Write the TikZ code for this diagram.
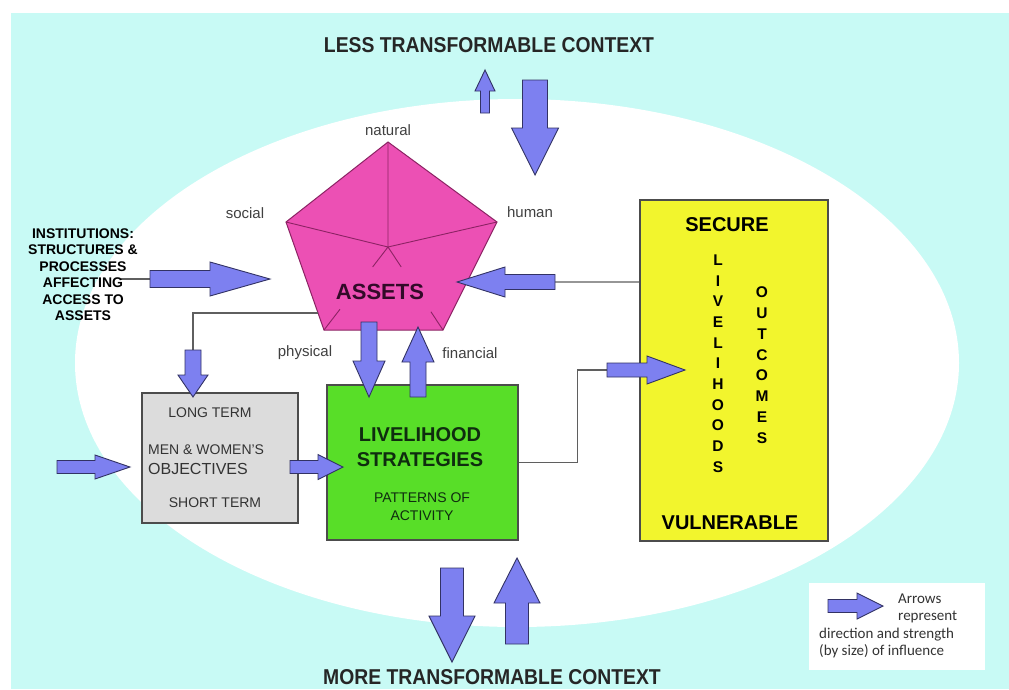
\documentclass[tikz,border=0pt]{standalone}
\usepackage{fontspec}
\setmainfont{Liberation Sans}
\newfontfamily\legendfont{Carlito}
\usetikzlibrary{calc,positioning}
\definecolor{bgcyan}{RGB}{200,250,245}
\definecolor{arrowblue}{RGB}{125,128,240}
\definecolor{arrowedge}{RGB}{50,50,100}
\definecolor{assetpink}{RGB}{236,80,180}
\definecolor{assetedge}{RGB}{140,35,100}
\definecolor{assetdark}{RGB}{50,10,40}
\definecolor{stratgreen}{RGB}{88,222,40}
\definecolor{stratdark}{RGB}{15,45,15}
\definecolor{outyellow}{RGB}{242,245,45}
\definecolor{objgrey}{RGB}{220,220,220}
\definecolor{linkgrey}{RGB}{95,95,95}
\definecolor{lightlink}{RGB}{150,150,150}
\tikzset{
  fatarrow/.style={fill=arrowblue,draw=arrowedge,line width=0.9pt,line join=miter},
  link/.style={draw=linkgrey,line width=1.4pt},
  ctxtitle/.style={font=\bfseries\fontsize{21.5}{24}\selectfont,text=black!85,inner sep=0pt},
  capital/.style={font=\fontsize{15}{18}\selectfont,text=black!75,inner sep=0pt},
  insttext/.style={font=\bfseries\fontsize{14}{16.5}\selectfont,align=center,inner sep=0pt},
  objtext/.style={font=\fontsize{14}{19}\selectfont,text=black!80,inner sep=0pt},
  strattext/.style={text=stratdark,inner sep=0pt,align=center},
  outtext/.style={font=\bfseries\fontsize{20}{24}\selectfont,inner sep=0pt},
  vletter/.style={font=\bfseries\fontsize{15.5}{18}\selectfont,inner sep=0pt},
  legtext/.style={font=\legendfont\fontsize{15}{17}\selectfont,text=black!80,align=left,inner sep=0pt,anchor=west},
}
\newcommand{\fatarrow}[5]{%
  \coordinate (fa-h) at ($(#2)!#5!(#1)$);
  \draw[fatarrow] ($(#1)!#3!90:(#2)$) -- ($(fa-h)!#3!-90:(#1)$) -- ($(fa-h)!#4!-90:(#1)$) -- (#2)
    -- ($(fa-h)!#4!90:(#1)$) -- ($(fa-h)!#3!90:(#1)$) -- ($(#1)!#3!-90:(#2)$) -- cycle;}
\begin{document}
\begin{tikzpicture}[x=1pt,y=-1pt]
\useasboundingbox (0,0) rectangle (1009,689);
\fill[bgcyan] (11,13) rectangle (1009,689);
\fill[white] (517,363) ellipse [x radius=442,y radius=264];

\node[ctxtitle] (less) at (489,45) {\scalebox{0.9}[1]{LESS TRANSFORMABLE CONTEXT}};
\node[ctxtitle] (more) at (492,677) {\scalebox{0.9}[1]{MORE TRANSFORMABLE CONTEXT}};

\node[draw=black!70,fill=objgrey,line width=1.2pt,minimum width=156pt,minimum height=130pt] (obj) at (220,458) {};
\node[draw=black!70,fill=stratgreen,line width=1.2pt,minimum width=191pt,minimum height=155pt] (strat) at (422.5,462.5) {};
\node[draw=black!70,fill=outyellow,line width=1.2pt,minimum width=188pt,minimum height=341pt] (outc) at (734,370.5) {};
\node[fill=white,minimum width=176pt,minimum height=87pt] (legend) at (897,626.5) {};

\coordinate (pt) at (388,142);
\coordinate (pl) at (286,222);
\coordinate (pr) at (497,222);
\coordinate (pbl) at (324,330);
\coordinate (pbr) at (443,330);
\coordinate (pc) at (388,247);
\draw[fill=assetpink,draw=assetedge,line width=1pt] (pt) -- (pr) -- (pbr) -- (pbl) -- (pl) -- cycle;
\draw[assetedge,line width=0.9pt] (pc) -- (pt) (pc) -- (pl) (pc) -- (pr)
  (pc) -- ($(pc)!0.24!(pbl)$) (pc) -- ($(pc)!0.24!(pbr)$)
  (pbl) -- ($(pbl)!0.25!(pc)$) (pbr) -- ($(pbr)!0.22!(pc)$);
\node[font=\bfseries\fontsize{22}{26}\selectfont,text=assetdark,inner sep=0pt] (assets) at (380,292) {ASSETS};

\node[capital] (natural) at (388,130) {natural};
\node[capital] (social) at (245,213) {social};
\node[capital] (human) at (530,212) {human};
\node[capital] (physical) at (305,353) {physical};
\node[capital] (financial) at (470,353) {financial};

\coordinate (instL) at (121,279);
\coordinate (instT) at (150,279);
\coordinate (instH) at (270,279);
\coordinate (secT) at (555,282);
\coordinate (secH) at (457,282);
\coordinate (ptl) at ($(pl)!0.843!(pbl)$);
\coordinate (ltT) at (193,350);
\coordinate (ltH) at (193,397);
\coordinate (gyT) at (607,370);
\coordinate (gyH) at (685,370);
\draw[link] (instL) -- (instT);
\draw[draw=lightlink,line width=1.4pt] (outc.west |- secT) -- (secT);
\draw[link] (ptl) -| (ltT);
\draw[link] (strat.east) -- ++(59,0) |- (gyT);

\node[insttext] (inst) at (83,274.5) {INSTITUTIONS:\\STRUCTURES \&\\PROCESSES\\AFFECTING\\ACCESS TO\\ASSETS};

\coordinate (tuT) at (485,113);
\coordinate (tuH) at (485,70);
\coordinate (tdT) at (535,80);
\coordinate (tdH) at (535,175);
\coordinate (bdT) at (452,568);
\coordinate (bdH) at (452,662);
\coordinate (buT) at (517,644);
\coordinate (buH) at (517,558);
\coordinate (phT) at (369,322);
\coordinate (phH) at (369,397);
\coordinate (fiT) at (418,397);
\coordinate (fiH) at (418,327);
\coordinate (ogT) at (290,467);
\coordinate (ogH) at (343,467);
\coordinate (inT) at (57,467);
\coordinate (inH) at (130,467);
\coordinate (lgT) at (828,606);
\coordinate (lgH) at (883,606);
\fatarrow{tuT}{tuH}{4.5pt}{10pt}{21pt}
\fatarrow{tdT}{tdH}{12.5pt}{23.5pt}{47pt}
\fatarrow{bdT}{bdH}{11.5pt}{23pt}{46pt}
\fatarrow{buT}{buH}{11.5pt}{23pt}{45pt}
\fatarrow{instT}{instH}{8.5pt}{17pt}{60pt}
\fatarrow{secT}{secH}{7.5pt}{15pt}{48pt}
\fatarrow{ltT}{ltH}{8pt}{15pt}{22pt}
\fatarrow{phT}{phH}{8pt}{16pt}{36pt}
\fatarrow{fiT}{fiH}{8pt}{16pt}{35pt}
\fatarrow{ogT}{ogH}{6.5pt}{12.5pt}{25pt}
\fatarrow{inT}{inH}{6.5pt}{12pt}{35pt}
\fatarrow{gyT}{gyH}{7pt}{14pt}{38pt}
\fatarrow{lgT}{lgH}{6.5pt}{13pt}{26pt}

\node[objtext] (longterm) at (210,413) {LONG TERM};
\node[objtext,anchor=west] (menwomen) at (148,450) {MEN \& WOMEN'S};
\node[objtext,anchor=west,font=\fontsize{16}{19}\selectfont] (objectives) at (148,469) {OBJECTIVES};
\node[objtext] (shortterm) at (215,503) {SHORT TERM};

\node[strattext,font=\bfseries\fontsize{20}{25}\selectfont] (livstrat) at (420,447.5) {LIVELIHOOD\\STRATEGIES};
\node[strattext,font=\fontsize{14}{18}\selectfont] (patterns) at (422,507) {PATTERNS OF\\ACTIVITY};

\node[outtext] (secure) at (727,225) {SECURE};
\node[outtext] (vulnerable) at (730,523) {VULNERABLE};
\foreach \l [count=\i] in {L,I,V,E,L,I,H,O,O,D,S}
  \node[vletter] (liv\i) at (718,{260+(\i-1)*20.7}) {\l};
\foreach \l [count=\i] in {O,U,T,C,O,M,E,S}
  \node[vletter] (out\i) at (762,{292+(\i-1)*20.9}) {\l};

\node[legtext] (legA) at (898,608) {Arrows\\represent};
\node[legtext] (legB) at (819,643) {direction and strength\\(by size) of influence};
\end{tikzpicture}
\end{document}
